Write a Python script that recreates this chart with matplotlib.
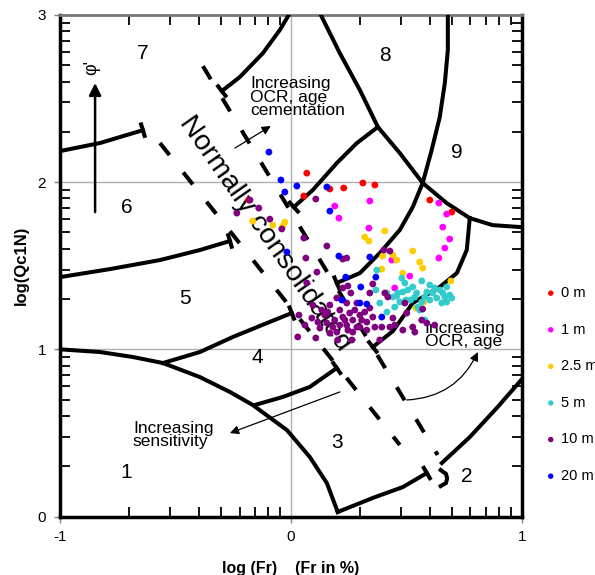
import matplotlib.pyplot as plt
import numpy as np
from matplotlib.patches import FancyArrowPatch

plt.rcParams['font.family'] = ['Liberation Sans', 'DejaVu Sans']
plt.rcParams['lines.scale_dashes'] = False

# ---- CPT points: x = log(Fr), y = log(Qc1N) ----
x_0m = [0.069, 0.312, 0.364, 0.229, 0.169, 0.056, -0.182, 0.602, 0.697]
y_0m = [2.054, 1.995, 1.983, 1.965, 1.959, 1.917, 1.893, 1.893, 1.821]

x_1m = [0.342, 0.641, 0.675, 0.190, 0.208, 0.338, 0.658, 0.688, 0.667, 0.641, 0.515, 0.450, 0.437]
y_1m = [1.887, 1.875, 1.809, 1.857, 1.785, 1.725, 1.731, 1.660, 1.606, 1.546, 1.438, 1.367, 1.534]

x_2_5m = [-0.165, -0.078, -0.026, -0.035, 0.407, 0.320, 0.338, 0.528, 0.442, 0.459,
          0.398, 0.558, 0.571, 0.485, 0.693, 0.576, 0.541, 0.394]
y_2_5m = [1.767, 1.743, 1.761, 1.737, 1.708, 1.672, 1.648, 1.588, 1.564, 1.534,
          1.558, 1.522, 1.486, 1.456, 1.409, 1.283, 1.247, 1.480]

x_5m = [0.372, 0.368, 0.385, 0.416, 0.416, 0.442, 0.450, 0.463, 0.472, 0.481, 0.494,
        0.506, 0.519, 0.528, 0.545, 0.550, 0.567, 0.567, 0.589, 0.602, 0.602, 0.615,
        0.632, 0.645, 0.654, 0.667, 0.675, 0.688, 0.697, 0.675, 0.580, 0.498, 0.459,
        0.623, 0.580, 0.537, 0.485, 0.658, 0.558]
y_5m = [1.474, 1.355, 1.277, 1.337, 1.223, 1.313, 1.253, 1.337, 1.283, 1.426, 1.397,
        1.355, 1.295, 1.373, 1.337, 1.253, 1.409, 1.283, 1.343, 1.385, 1.295, 1.337,
        1.307, 1.355, 1.277, 1.313, 1.283, 1.325, 1.307, 1.373, 1.175, 1.295, 1.319,
        1.367, 1.313, 1.313, 1.343, 1.337, 1.235]

x_10m = [-0.177, -0.139, -0.234, -0.091, -0.039, 0.108, 0.056, 0.156, 0.065, 0.225,
         0.242, 0.113, 0.247, 0.355, 0.403, 0.429, 0.342, 0.407, 0.420, 0.030,
         0.108, 0.069, 0.035,
         0.091, 0.095, 0.147, 0.156, 0.182, 0.199, 0.212, 0.225, 0.255, 0.268,
         0.242, 0.286, 0.299, 0.320, 0.329, 0.355, 0.364, 0.394, 0.247, 0.268,
         0.199, 0.169, 0.126, 0.299, 0.329, 0.429, 0.242, 0.286, 0.260, 0.225,
         0.169, 0.190, 0.234, 0.277, 0.307, 0.342, 0.212, 0.134, 0.117, 0.160,
         0.264, 0.203, 0.061,
         0.494, 0.502, 0.571, 0.528, 0.485, 0.537, 0.442, 0.589, 0.623, 0.567,
         0.450, 0.385]
y_10m = [1.893, 1.845, 1.815, 1.779, 1.720, 1.899, 1.666, 1.618, 1.546, 1.540,
         1.546, 1.462, 1.379, 1.391, 1.594, 1.588, 1.337, 1.337, 1.313, 1.074,
         1.068, 1.397, 1.205,
         1.187, 1.265, 1.205, 1.157, 1.133, 1.307, 1.235, 1.193, 1.217, 1.175,
         1.145, 1.133, 1.205, 1.223, 1.163, 1.193, 1.133, 1.133, 1.115, 1.103,
         1.103, 1.097, 1.127, 1.133, 1.115, 1.133, 1.277, 1.277, 1.337, 1.367,
         1.265, 1.175, 1.175, 1.235, 1.175, 1.247, 1.145, 1.235, 1.163, 1.223,
         1.056, 1.056, 1.145,
         1.277, 1.217, 1.241, 1.133, 1.115, 1.103, 1.187, 1.157, 1.145, 1.175,
         1.145, 1.056]

x_20m = [-0.095, -0.043, 0.026, -0.026, 0.156, 0.169, -0.017, 0.208, 0.342, 0.238,
         0.368, 0.303, 0.221, 0.299, 0.329, 0.394]
y_20m = [2.180, 2.013, 1.977, 1.941, 1.971, 1.827, 1.582, 1.558, 1.552, 1.432,
         1.432, 1.373, 1.295, 1.277, 1.271, 1.193]

series_labels = ['0 m', '1 m', '2.5 m', '5 m', '10 m', '20 m']
series_colors = ['#ff0000', '#ff00ff', '#ffcc00', '#33cccc', '#800080', '#0000ff']

# ---- zone boundaries of the background classification chart ----
zone1_x = [-1.0, -0.827, -0.684, -0.554, -0.394, -0.264, -0.165, -0.017, 0.082, 0.156, 0.203]
zone1_y = [1.0, 0.984, 0.954, 0.918, 0.834, 0.745, 0.667, 0.517, 0.356, 0.200, 0.027]
b45_x = [-0.554, -0.394, -0.251, -0.104, 0.004]
b45_y = [0.918, 0.984, 1.074, 1.157, 1.217]
b34_x = [-0.156, -0.035, 0.082, 0.199]
b34_y = [0.667, 0.715, 0.775, 0.888]
b3_x = [0.203, 0.355, 0.485, 0.589]
b3_y = [0.027, 0.111, 0.176, 0.260]
hook_x = [0.649, 0.672, 0.677, 0.672, 0.649]
hook_y = [0.278, 0.255, 0.228, 0.200, 0.182]
b2_x = [0.654, 0.775, 0.892, 1.0]
b2_y = [0.320, 0.475, 0.649, 0.82]
b56_x = [-1.0, -0.784, -0.567, -0.394, -0.264]
b56_y = [1.432, 1.480, 1.534, 1.594, 1.648]
c_x = [0.199, 0.299, 0.385, 0.472, 0.528, 0.571, 0.610, 0.645, 0.667, 0.680, 0.680]
c_y = [1.397, 1.456, 1.576, 1.714, 1.851, 1.995, 2.192, 2.389, 2.593, 2.790, 3.0]
b_x = [0.130, 0.212, 0.299, 0.377, 0.472, 0.571, 0.675, 0.775, 0.874, 1.0]
b_y = [3.0, 2.772, 2.551, 2.330, 2.174, 1.995, 1.875, 1.785, 1.743, 1.731]
e_x = [0.377, 0.286, 0.199, 0.095, 0.013]
e_y = [2.330, 2.234, 2.114, 1.953, 1.851]
b67l_x = [-1.0, -0.827, -0.641]
b67l_y = [2.186, 2.234, 2.311]
b67r_x = [-0.299, -0.221, -0.121, -0.048, -0.009]
b67r_y = [2.545, 2.629, 2.772, 2.910, 3.0]
f_x = [0.775, 0.762, 0.719, 0.645, 0.528, 0.442, 0.355]
f_y = [1.785, 1.594, 1.456, 1.373, 1.277, 1.109, 1.014]
nc_left_x = [-0.567, 0.472]
nc_left_y = [2.234, 0.428]
nc_right_x = [-0.381, 0.636]
nc_right_y = [2.694, 0.368]

zone_names = ['1', '2', '3', '4', '5', '6', '7', '8', '9']
zone_x = [-0.714, 0.762, 0.199, -0.147, -0.459, -0.710, -0.641, 0.407, 0.719]
zone_y = [0.266, 0.242, 0.440, 0.954, 1.307, 1.851, 2.772, 2.760, 2.180]

fig = plt.figure(figsize=(5.95, 5.75), dpi=100)
ax = fig.add_axes([60 / 595, 58.5 / 575, 461.7 / 595, 501.5 / 575])
ax.set_xlim(-1, 1)
ax.set_ylim(0, 3)

ax.set_xticks([-1, 0, 1])
ax.set_xticklabels(['-1', '0', '1'])
ax.set_yticks([0, 1, 2, 3])
ax.set_yticklabels(['0', '1', '2', '3'])
minor_x = [d + np.log10(k) for d in (-1, 0) for k in range(2, 10)]
minor_y = [d + np.log10(k) for d in (0, 1, 2) for k in range(2, 10)]
ax.set_xticks(minor_x, minor=True)
ax.set_yticks(minor_y, minor=True)
ax.tick_params(which='major', direction='out', length=4, width=1, color='#808080',
               labelsize=11, pad=6, top=False, right=False)
ax.tick_params(which='minor', direction='in', length=7, width=1.3, color='black',
               top=True, right=True, left=True, bottom=True)
ax.grid(which='major', color='#b0b0b0', lw=1, zorder=0)
ax.set_axisbelow(True)
for side in ['left', 'bottom', 'right']:
    ax.spines[side].set_linewidth(2.5)
    ax.spines[side].set_color('black')
ax.spines['top'].set_linewidth(2)
ax.spines['top'].set_color('#777777')

ax.set_xlabel('log (Fr)    (Fr in %)', fontsize=11.5, fontweight='bold', labelpad=12)
ax.set_ylabel('log(Qc1N)', fontsize=12, fontweight='bold', labelpad=6)

LW = 2.9


def t_end(xs, ys, at_start=False, size=8):
    # perpendicular bar at the end of a boundary, computed in pixels
    i0, i1 = (1, 0) if at_start else (-2, -1)
    p1 = ax.transData.transform((xs[i0], ys[i0]))
    p2 = ax.transData.transform((xs[i1], ys[i1]))
    d = p2 - p1
    n = np.array([-d[1], d[0]]) / np.hypot(*d) * size
    a = ax.transData.inverted().transform(p2 + n)
    b = ax.transData.inverted().transform(p2 - n)
    ax.plot([a[0], b[0]], [a[1], b[1]], color='black', lw=LW, solid_capstyle='butt', zorder=3)


for xs, ys in [(zone1_x, zone1_y), (b45_x, b45_y), (b34_x, b34_y), (b3_x, b3_y),
               (hook_x, hook_y), (b2_x, b2_y), (b56_x, b56_y), (c_x, c_y), (b_x, b_y),
               (e_x, e_y), (b67l_x, b67l_y), (b67r_x, b67r_y), (f_x, f_y)]:
    ax.plot(xs, ys, color='black', lw=LW, solid_joinstyle='round', zorder=3)

for xs, ys in [(b45_x, b45_y), (b34_x, b34_y), (b3_x, b3_y), (b56_x, b56_y),
               (e_x, e_y), (b67l_x, b67l_y), (f_x, f_y)]:
    t_end(xs, ys)
t_end(c_x, c_y, at_start=True)
t_end(b67r_x, b67r_y, at_start=True)

for xs, ys in [(nc_left_x, nc_left_y), (nc_right_x, nc_right_y)]:
    ax.plot(xs, ys, color='black', lw=LW, dashes=(11, 16), dash_capstyle='butt', zorder=3)

for name, zx, zy in zip(zone_names, zone_x, zone_y):
    ax.text(zx, zy, name, fontsize=15, ha='center', va='center', zorder=4)

ax.text(-0.113, 1.696, 'Normally consolidated', fontsize=20.5, rotation=-55,
        rotation_mode='anchor', ha='center', va='center', zorder=4)

ax.text(-0.177, 2.509, 'Increasing\nOCR, age\ncementation', fontsize=12.5,
        linespacing=0.9, ha='left', va='center', zorder=4)
ax.text(0.580, 1.086, 'Increasing\nOCR, age', fontsize=12.5,
        linespacing=0.9, ha='left', va='center', zorder=4)
ax.text(-0.684, 0.487, 'Increasing\nsensitivity', fontsize=12.5,
        linespacing=0.9, ha='left', va='center', zorder=4)
ax.text(-0.861, 2.688, "φ'", fontsize=13, rotation=90, ha='center', va='center', zorder=4)


def arrow(p0, p1, lw=0.9, scale=13, rad=0.0):
    ax.add_patch(FancyArrowPatch(p0, p1, arrowstyle='-|>', mutation_scale=scale,
                                 lw=lw, color='black', shrinkA=0, shrinkB=0,
                                 connectionstyle=f'arc3,rad={rad}', zorder=4))


arrow((-0.242, 2.204), (-0.087, 2.336))
arrow((0.502, 0.697), (0.810, 0.984), rad=0.3)
arrow((0.212, 0.745), (-0.264, 0.499))
arrow((-0.848, 1.821), (-0.848, 2.593), lw=1.8, scale=18)

all_x = [x_0m, x_1m, x_2_5m, x_5m, x_10m, x_20m]
all_y = [y_0m, y_1m, y_2_5m, y_5m, y_10m, y_20m]
handles = []
for xs, ys, lab, col in zip(all_x, all_y, series_labels, series_colors):
    handles.append(ax.scatter(xs, ys, s=24, color=col, edgecolors='none', label=lab, zorder=5))

fig.legend(handles=handles, loc='upper left', bbox_to_anchor=(542 / 595, 1 - 286 / 575),
           frameon=False, fontsize=10.5, handletextpad=0.1, handlelength=1.2,
           borderpad=0, borderaxespad=0, labelspacing=1.55, markerscale=0.8)

fig.savefig('out.png', dpi=100)
